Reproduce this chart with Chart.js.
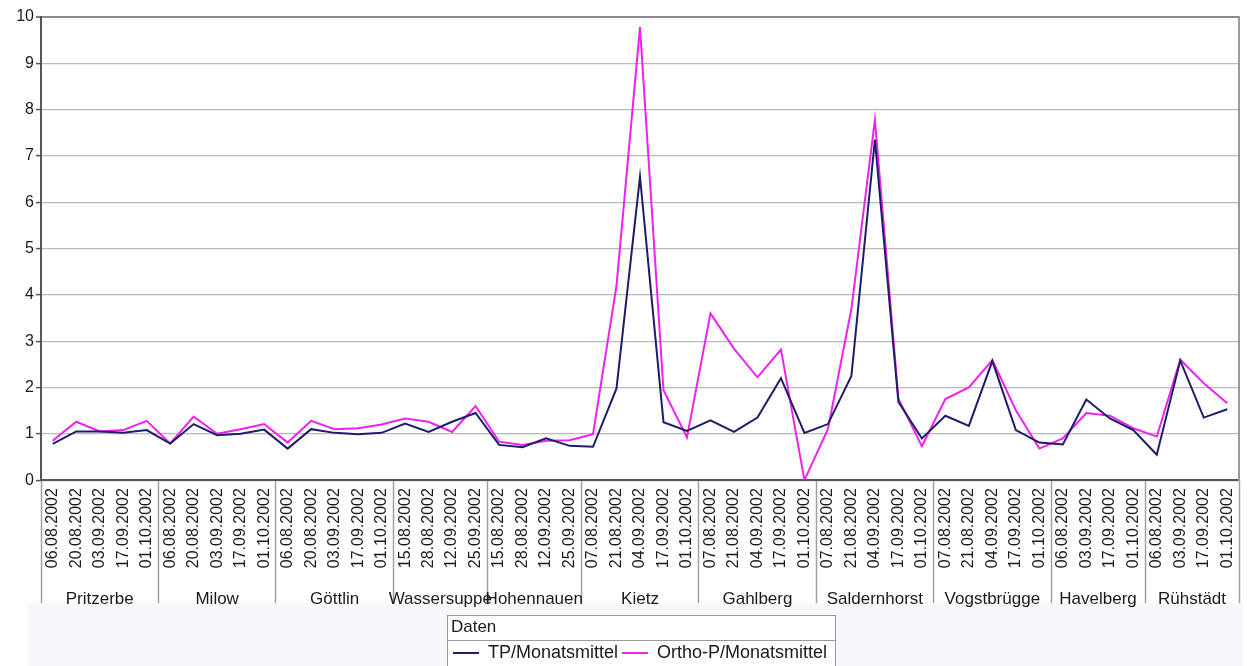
<!DOCTYPE html>
<html>
<head>
<meta charset="utf-8">
<title>TP und Ortho-P Monatsmittel 2002</title>
<script src="https://cdn.jsdelivr.net/npm/chart.js@4.4.1/dist/chart.umd.min.js"></script>
<style>
  html, body { margin: 0; padding: 0; background: #fff; overflow: hidden; }
  canvas { display: block; }
</style>
</head>
<body>
<canvas id="chart" width="1247" height="672"></canvas>
<script>
// Messstellen und Anzahl der Probenahmetermine je Messstelle
const stations = ['Pritzerbe', 'Milow', 'Göttlin', 'Wassersuppe', 'Hohennauen', 'Kietz',
                  'Gahlberg', 'Saldernhorst', 'Vogstbrügge', 'Havelberg', 'Rühstädt'];
const stationSizes = [5, 5, 5, 4, 4, 5, 5, 5, 5, 4, 4];

// Probenahmetermine (in Reihenfolge der Messstellen)
const sampleDates = [
  '06.08.2002', '20.08.2002', '03.09.2002', '17.09.2002', '01.10.2002',
  '06.08.2002', '20.08.2002', '03.09.2002', '17.09.2002', '01.10.2002',
  '06.08.2002', '20.08.2002', '03.09.2002', '17.09.2002', '01.10.2002',
  '15.08.2002', '28.08.2002', '12.09.2002', '25.09.2002',
  '15.08.2002', '28.08.2002', '12.09.2002', '25.09.2002',
  '07.08.2002', '21.08.2002', '04.09.2002', '17.09.2002', '01.10.2002',
  '07.08.2002', '21.08.2002', '04.09.2002', '17.09.2002', '01.10.2002',
  '07.08.2002', '21.08.2002', '04.09.2002', '17.09.2002', '01.10.2002',
  '07.08.2002', '21.08.2002', '04.09.2002', '17.09.2002', '01.10.2002',
  '06.08.2002', '03.09.2002', '17.09.2002', '01.10.2002',
  '06.08.2002', '03.09.2002', '17.09.2002', '01.10.2002'
];

// Gesamtphosphor
const tpValues = [
  0.78, 1.05, 1.05, 1.02, 1.08,
  0.79, 1.21, 0.97, 1.00, 1.09,
  0.68, 1.10, 1.02, 0.99, 1.02,
  1.22, 1.04, 1.26, 1.45,
  0.76, 0.71, 0.90, 0.74,
  0.72, 1.98, 6.55, 1.25, 1.06,
  1.29, 1.04, 1.35, 2.20, 1.02,
  1.21, 2.25, 7.35, 1.69, 0.90,
  1.39, 1.17, 2.57, 1.08, 0.81,
  0.77, 1.74, 1.33, 1.08,
  0.55, 2.58, 1.35, 1.53
];

// ortho-Phosphat
const orthoValues = [
  0.85, 1.26, 1.05, 1.08, 1.28,
  0.79, 1.37, 1.00, 1.10, 1.21,
  0.81, 1.28, 1.10, 1.12, 1.20,
  1.33, 1.26, 1.04, 1.60,
  0.83, 0.76, 0.85, 0.86,
  0.99, 4.20, 9.78, 1.94, 0.92,
  3.60, 2.84, 2.22, 2.82, 0.00,
  1.10, 3.70, 7.78, 1.76, 0.73,
  1.75, 2.00, 2.59, 1.51, 0.68,
  0.90, 1.45, 1.39, 1.12,
  0.94, 2.60, 2.09, 1.66
];

const FONT = '"Liberation Sans", Arial, Helvetica, sans-serif';
const TEXT = '#1a1a1a';
const SEP_LENGTH = 123;   // Trennstriche zwischen den Messstellen

// Kategorie-Grenzen der Messstellen-Gruppen und deren Mitten
const groupStarts = [0];
stationSizes.forEach(n => groupStarts.push(groupStarts[groupStarts.length - 1] + n));
const boundarySet = new Set(groupStarts);
const groupCenters = stationSizes.map((n, k) => groupStarts[k] + (n - 1) / 2);

function frameBox(chart) {
  const lg = chart.legend;
  const hb = lg.legendHitBoxes;
  const first = hb[0], last = hb[hb.length - 1];
  return {
    l: Math.round(first.left - 6) + 0.5,
    r: Math.round(last.left + last.width + 8) + 0.5,
    t: Math.round(lg.top) + 0.5,
    m: Math.round(lg.top + 25) + 0.5,
    b: chart.height + 2
  };
}

// Hintergrund unter der Achse und Rahmen um die Legende
const legendFrame = {
  id: 'legendFrame',
  beforeDraw(chart) {
    const ctx = chart.ctx;
    const bandTop = chart.scales.x.top + SEP_LENGTH;
    ctx.save();
    ctx.fillStyle = '#f6f8fb';
    ctx.fillRect(28, bandTop, 1215, chart.height - bandTop);
    const b = frameBox(chart);
    ctx.fillStyle = '#ffffff';
    ctx.fillRect(b.l, b.t, b.r - b.l, b.b - b.t);
    ctx.restore();
  },
  afterDraw(chart) {
    const ctx = chart.ctx;
    const b = frameBox(chart);
    ctx.save();
    ctx.strokeStyle = '#9a9a9a';
    ctx.lineWidth = 1;
    ctx.strokeRect(b.l, b.t, b.r - b.l, b.b - b.t);
    ctx.beginPath();
    ctx.moveTo(b.l, b.m);
    ctx.lineTo(b.r, b.m);
    ctx.stroke();
    ctx.restore();
  }
};

new Chart(document.getElementById('chart'), {
  type: 'line',
  data: {
    labels: sampleDates,
    datasets: [
      {
        label: 'TP/Monatsmittel',
        data: tpValues,
        borderColor: '#1e1d68',
        backgroundColor: '#1e1d68',
        borderWidth: 2,
        pointRadius: 0,
        tension: 0,
        fill: false
      },
      {
        label: 'Ortho-P/Monatsmittel',
        data: orthoValues,
        borderColor: '#ee22ee',
        backgroundColor: '#ee22ee',
        borderWidth: 2,
        pointRadius: 0,
        tension: 0,
        fill: false
      }
    ]
  },
  options: {
    responsive: false,
    animation: false,
    devicePixelRatio: 1,
    layout: { padding: { left: 0, right: 8, top: 17, bottom: 0 } },
    plugins: {
      tooltip: { enabled: false },
      legend: {
        position: 'bottom',
        fullSize: false,
        labels: {
          font: { family: FONT, size: 18 },
          color: TEXT,
          boxWidth: 26,
          boxHeight: 2,
          padding: 4,
          generateLabels: chart => chart.data.datasets.map((ds, i) => ({
            text: ds.label,
            fillStyle: ds.borderColor,
            strokeStyle: ds.borderColor,
            lineWidth: 0,
            hidden: false,
            datasetIndex: i,
            fontColor: TEXT
          }))
        },
        title: {
          display: true,
          text: 'Daten',
          position: 'start',
          color: TEXT,
          font: { family: FONT, size: 17 },
          padding: { top: 4, bottom: 1 }
        }
      }
    },
    scales: {
      x: {
        type: 'category',
        offset: true,
        weight: 0,
        grid: {
          display: true,
          offset: true,
          drawOnChartArea: false,
          drawTicks: true,
          tickLength: SEP_LENGTH,
          tickWidth: 1.5,
          tickColor: c => (c.index === undefined || boundarySet.has(c.index)) ? '#a0a0a0' : 'rgba(0,0,0,0)'
        },
        border: { display: true, color: '#555555', width: 2 },
        ticks: {
          autoSkip: false,
          minRotation: 90,
          maxRotation: 90,
          padding: 8 - SEP_LENGTH,
          font: { family: FONT, size: 16 },
          color: TEXT
        },
        afterFit: s => { s.height = 96; }
      },
      x2: {
        type: 'linear',
        position: 'bottom',
        weight: 1,
        min: -0.5,
        max: sampleDates.length - 0.5,
        grid: { display: false },
        border: { display: false },
        afterBuildTicks: s => { s.ticks = groupCenters.map(v => ({ value: v })); },
        ticks: {
          autoSkip: false,
          minRotation: 0,
          maxRotation: 0,
          padding: 5,
          font: { family: FONT, size: 17 },
          color: TEXT,
          callback: (v, i) => stations[i]
        },
        afterFit: s => { s.height = 38.5; }
      },
      y: {
        min: 0,
        max: 10,
        ticks: { stepSize: 1, padding: 2, font: { family: FONT, size: 16 }, color: TEXT },
        grid: {
          color: c => (c.tick && c.tick.value === 10) ? '#8c8c8c' : '#b9b9b9',
          lineWidth: c => (c.tick && c.tick.value === 10) ? 2 : 1.2,
          drawTicks: true,
          tickLength: 5,
          tickColor: '#555555',
          tickWidth: 1.5
        },
        border: { display: true, color: '#555555', width: 2 },
        afterFit: s => { s.width = 41; }
      },
      y2: {
        type: 'linear',
        position: 'right',
        min: 0,
        max: 10,
        grid: { display: false },
        ticks: { display: false },
        border: { display: true, color: '#9a9a9a', width: 2 },
        afterFit: s => { s.width = 0; }
      }
    }
  },
  plugins: [legendFrame]
});
</script>
</body>
</html>
